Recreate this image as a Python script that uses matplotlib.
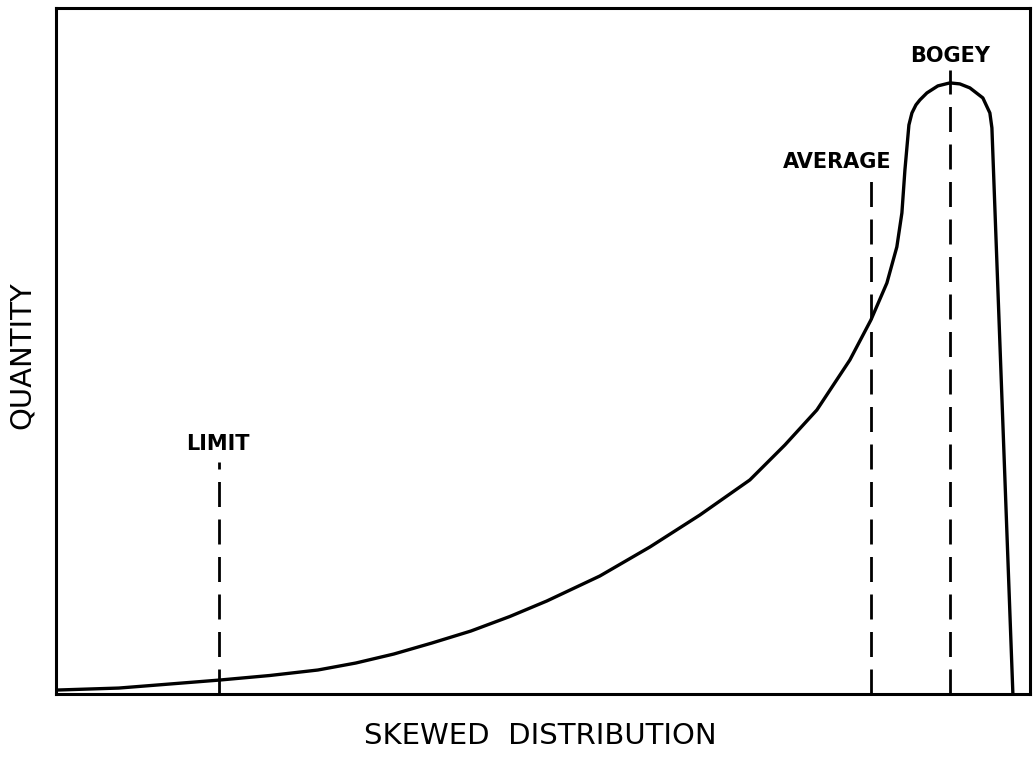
import matplotlib.pyplot as plt

# curve (x: 0-100 across the box, y: 0-100 up the box)
curve_x = [0.10, 6.47, 16.84, 21.97, 26.90, 30.80, 34.70, 38.60, 42.61, 46.61,
           50.41, 55.85, 60.99, 66.12, 71.25, 74.85, 78.13, 81.52, 83.68, 85.32,
           86.34, 86.86, 87.17, 87.58, 87.89, 88.30, 88.71, 89.43, 90.55, 91.79,
           92.81, 93.84, 95.17, 95.89, 96.10, 98.25]
curve_y = [0.58, 0.87, 2.04, 2.70, 3.50, 4.52, 5.83, 7.43, 9.18, 11.30,
           13.56, 17.20, 21.43, 26.09, 31.20, 36.30, 41.40, 48.69, 54.52, 59.91,
           65.16, 70.12, 76.38, 82.94, 84.69, 85.86, 86.59, 87.61, 88.63, 89.07,
           88.92, 88.34, 86.88, 84.69, 82.51, 0.15]

markers = ["LIMIT", "AVERAGE", "BOGEY"]
marker_x = [16.8, 83.7, 91.8]
marker_top = [33.8, 75.2, 91.0]
label_x = [16.6, 80.2, 91.8]
label_y = [36.5, 77.5, 93.0]

fig = plt.figure(figsize=(10.33, 7.59), dpi=100)
ax = fig.add_axes([0.054, 0.0856, 0.943, 0.904])

ax.plot(curve_x, curve_y, color='black', lw=2.4, solid_joinstyle='round')

for name, x, top, lx, ly in zip(markers, marker_x, marker_top, label_x, label_y):
    ax.plot([x, x], [0, top], color='black', lw=2.0, dashes=(9, 4.5))
    ax.text(lx, ly, name, ha='center', va='center', fontsize=15,
            fontweight='bold', family='DejaVu Sans')

ax.set_xlim(0, 100)
ax.set_ylim(0, 100)
ax.set_xticks([])
ax.set_yticks([])
for s in ax.spines.values():
    s.set_linewidth(2.2)

fig.text(0.523, 0.012, "SKEWED  DISTRIBUTION", ha='center', va='bottom',
         fontsize=21, family='DejaVu Sans')
fig.text(0.021, 0.532, "QUANTITY", ha='center', va='center', rotation=90,
         fontsize=21, family='DejaVu Sans')

fig.savefig("out.png", dpi=100)
